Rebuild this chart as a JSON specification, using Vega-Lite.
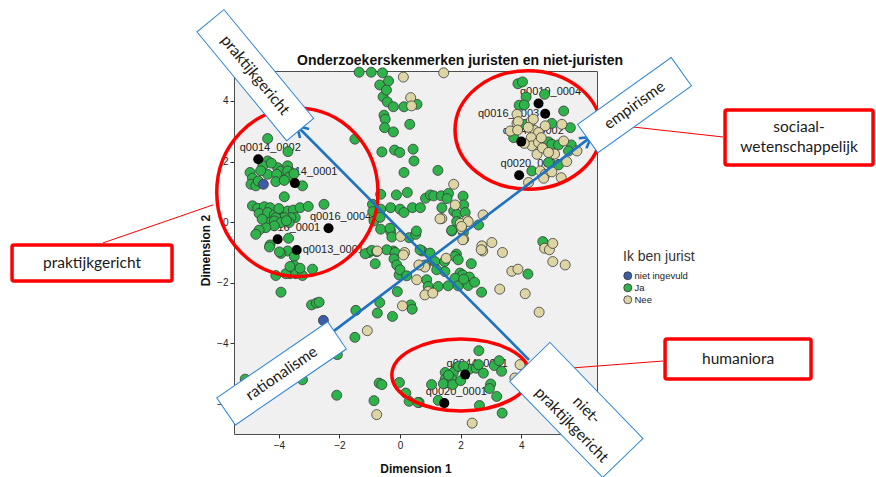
{
"$schema": "https://vega.github.io/schema/vega-lite/v6.json",
"width": 363, "height": 363,
"autosize": {"type": "none"},
"padding": {"left": 234, "top": 71, "right": 279, "bottom": 43},
"background": "white",
"config": {
 "view": {"fill": "#F0F0F0", "stroke": "#4d4d4d", "strokeWidth": 1},
 "font": "Liberation Sans",
 "axis": {"labelFont": "Liberation Sans", "labelFontSize": 10, "labelColor": "#222", "tickColor": "#333", "tickSize": 4, "domain": false, "grid": false, "titleFont": "Liberation Sans", "titleFontSize": 12, "titleFontWeight": "bold", "titleColor": "#111", "labelPadding": 2}
},
"datasets": {
 "pts": [
{"x":-1.35,"y":4.95,"g":"Ja"},{"x":-0.95,"y":4.95,"g":"Ja"},{"x":-0.58,"y":4.93,"g":"Ja"},{"x":-0.67,"y":4.53,"g":"Ja"},{"x":-0.38,"y":4.66,"g":"Ja"},{"x":-0.56,"y":4.14,"g":"Ja"},{"x":-0.45,"y":4.36,"g":"Ja"},{"x":-0.42,"y":3.97,"g":"Ja"},{"x":-0.22,"y":3.81,"g":"Ja"},{"x":-0.53,"y":3.53,"g":"Ja"},{"x":-0.49,"y":3.4,"g":"Ja"},{"x":-0.51,"y":3.12,"g":"Ja"},{"x":-0.22,"y":2.98,"g":"Ja"},{"x":0.32,"y":3.23,"g":"Ja"},{"x":0.13,"y":3.81,"g":"Ja"},{"x":0.56,"y":3.89,"g":"Ja"},
{"x":-1.49,"y":2.74,"g":"Ja"},{"x":-0.6,"y":2.32,"g":"Ja"},{"x":-0.18,"y":2.38,"g":"Ja"},{"x":-0.01,"y":2.3,"g":"Ja"},{"x":0.46,"y":2.02,"g":"Ja"},{"x":0.13,"y":1.64,"g":"Ja"},{"x":0.43,"y":2.41,"g":"Ja"},{"x":1.25,"y":1.71,"g":"Ja"},
{"x":-4.37,"y":2.76,"g":"Ja"},{"x":-4.37,"y":2.02,"g":"Ja"},{"x":-4.95,"y":1.64,"g":"Ja"},{"x":-4.87,"y":1.45,"g":"Ja"},{"x":-4.92,"y":1.25,"g":"Ja"},{"x":-4.76,"y":1.2,"g":"Ja"},{"x":-4.68,"y":1.36,"g":"Ja"},{"x":-4.37,"y":1.58,"g":"Ja"},{"x":-4.04,"y":1.8,"g":"Ja"},{"x":-3.93,"y":1.69,"g":"Ja"},{"x":-4.07,"y":1.58,"g":"Ja"},{"x":-3.71,"y":1.86,"g":"Ja"},{"x":-3.71,"y":1.69,"g":"Ja"},{"x":-3.66,"y":1.49,"g":"Ja"},{"x":-4.1,"y":1.34,"g":"Ja"},{"x":-3.82,"y":1.38,"g":"Ja"},{"x":-3.22,"y":1.2,"g":"Ja"},{"x":-3.82,"y":0.84,"g":"Ja"},{"x":-4.87,"y":0.54,"g":"Ja"},{"x":-4.7,"y":0.46,"g":"Ja"},{"x":-4.48,"y":0.51,"g":"Ja"},{"x":-4.29,"y":0.48,"g":"Ja"},{"x":-4.65,"y":0.29,"g":"Ja"},{"x":-4.37,"y":0.32,"g":"Ja"},{"x":-4.15,"y":0.24,"g":"Ja"},{"x":-3.93,"y":0.32,"g":"Ja"},{"x":-3.71,"y":0.37,"g":"Ja"},{"x":-3.52,"y":0.4,"g":"Ja"},{"x":-3.46,"y":0.15,"g":"Ja"},{"x":-3.6,"y":0.15,"g":"Ja"},{"x":-3.82,"y":0.15,"g":"Ja"},{"x":-4.1,"y":0.15,"g":"Ja"},{"x":-4.37,"y":-0.01,"g":"Ja"},{"x":-4.15,"y":0.04,"g":"Ja"},{"x":-3.93,"y":-0.01,"g":"Ja"},{"x":-3.66,"y":-0.01,"g":"Ja"},{"x":-3.3,"y":0.48,"g":"Ja"},{"x":-3.03,"y":0.52,"g":"Ja"},{"x":-2.51,"y":0.59,"g":"Ja"},{"x":-4.15,"y":-0.12,"g":"Ja"},{"x":-4.43,"y":-0.18,"g":"Ja"},{"x":-4.65,"y":-0.26,"g":"Ja"},{"x":-4.76,"y":-0.4,"g":"Ja"},{"x":-4.29,"y":-0.75,"g":"Ja"},{"x":-3.71,"y":-0.95,"g":"Ja"},{"x":-3.93,"y":-1.03,"g":"Ja"},{"x":-4.31,"y":-0.82,"g":"Ja"},{"x":-3.68,"y":-0.53,"g":"Ja"},{"x":-3.49,"y":-1.13,"g":"Ja"},{"x":-3.7,"y":2.33,"g":"Ja"},{"x":-4.53,"y":1.86,"g":"Ja"},{"x":-4.25,"y":1.95,"g":"Ja"},{"x":-4.6,"y":1.7,"g":"Ja"},{"x":-3.5,"y":1.6,"g":"Ja"},{"x":-4.0,"y":0.45,"g":"Ja"},{"x":-3.75,"y":0.05,"g":"Ja"},{"x":-4.55,"y":0.1,"g":"Ja"},
{"x":-0.64,"y":0.92,"g":"Ja"},{"x":-0.12,"y":0.9,"g":"Ja"},{"x":0.24,"y":0.98,"g":"Ja"},{"x":-0.91,"y":0.59,"g":"Ja"},{"x":-0.64,"y":0.43,"g":"Ja"},{"x":-0.31,"y":0.48,"g":"Ja"},{"x":0.0,"y":0.43,"g":"Ja"},{"x":0.13,"y":0.32,"g":"Ja"},{"x":0.41,"y":0.48,"g":"Ja"},{"x":-0.86,"y":0.04,"g":"Ja"},{"x":-0.64,"y":-0.23,"g":"Ja"},{"x":-0.31,"y":-0.31,"g":"Ja"},{"x":0.3,"y":-0.51,"g":"Ja"},{"x":0.52,"y":-0.4,"g":"Ja"},{"x":-1.02,"y":-1.0,"g":"Ja"},{"x":-0.22,"y":-0.95,"g":"Ja"},{"x":-0.9,"y":0.35,"g":"Ja"},{"x":-0.66,"y":0.16,"g":"Ja"},{"x":-0.33,"y":-0.2,"g":"Ja"},{"x":-0.27,"y":-0.49,"g":"Ja"},
{"x":0.84,"y":0.79,"g":"Ja"},{"x":1.0,"y":0.9,"g":"Ja"},{"x":1.11,"y":0.87,"g":"Ja"},{"x":1.36,"y":0.87,"g":"Ja"},{"x":1.6,"y":0.95,"g":"Ja"},{"x":1.55,"y":0.78,"g":"Ja"},{"x":2.08,"y":0.86,"g":"Ja"},{"x":2.1,"y":0.57,"g":"Ja"},{"x":1.77,"y":0.37,"g":"Ja"},{"x":1.38,"y":0.48,"g":"Ja"},{"x":0.67,"y":0.48,"g":"Ja"},{"x":1.88,"y":0.26,"g":"Ja"},{"x":2.15,"y":0.32,"g":"Ja"},{"x":1.71,"y":-0.29,"g":"Ja"},{"x":2.59,"y":-0.09,"g":"Ja"},{"x":0.54,"y":-0.29,"g":"Ja"},{"x":4.71,"y":-0.64,"g":"Ja"},{"x":1.86,"y":-1.05,"g":"Ja"},{"x":0.73,"y":-0.95,"g":"Ja"},{"x":1.87,"y":0.02,"g":"Ja"},{"x":1.7,"y":-0.27,"g":"Ja"},{"x":2.09,"y":-0.34,"g":"Ja"},
{"x":3.89,"y":4.57,"g":"Ja"},{"x":4.04,"y":4.63,"g":"Ja"},{"x":4.16,"y":4.13,"g":"Ja"},{"x":4.77,"y":4.22,"g":"Ja"},{"x":3.93,"y":3.86,"g":"Ja"},{"x":4.1,"y":3.87,"g":"Ja"},{"x":5.4,"y":3.67,"g":"Ja"},{"x":5.01,"y":3.26,"g":"Ja"},{"x":5.62,"y":3.12,"g":"Ja"},{"x":4.13,"y":3.23,"g":"Ja"},{"x":3.75,"y":2.79,"g":"Ja"},{"x":4.9,"y":2.65,"g":"Ja"},{"x":5.01,"y":2.57,"g":"Ja"},{"x":5.23,"y":2.55,"g":"Ja"},{"x":5.65,"y":2.55,"g":"Ja"},{"x":5.56,"y":2.35,"g":"Ja"},{"x":4.9,"y":1.97,"g":"Ja"},{"x":4.35,"y":1.69,"g":"Ja"},{"x":5.23,"y":1.89,"g":"Ja"},
{"x":-3.49,"y":-1.44,"g":"Ja"},{"x":-3.63,"y":-1.7,"g":"Ja"},{"x":-3.77,"y":-1.7,"g":"Ja"},{"x":-3.44,"y":-1.7,"g":"Ja"},{"x":-3.22,"y":-1.76,"g":"Ja"},{"x":-4.1,"y":-1.76,"g":"Ja"},{"x":-2.89,"y":-1.55,"g":"Ja"},{"x":-3.93,"y":-2.31,"g":"Ja"},{"x":-2.92,"y":-2.73,"g":"Ja"},{"x":-2.76,"y":-2.67,"g":"Ja"},{"x":-2.67,"y":-2.64,"g":"Ja"},{"x":-1.46,"y":-2.91,"g":"Ja"},{"x":-1.49,"y":-3.8,"g":"Ja"},{"x":-2.07,"y":-4.37,"g":"Ja"},{"x":-3.22,"y":-5.2,"g":"Ja"},{"x":-2.09,"y":-5.71,"g":"Ja"},{"x":-5.11,"y":-5.18,"g":"Ja"},{"x":-0.03,"y":-1.74,"g":"Ja"},{"x":-0.09,"y":-2.29,"g":"Ja"},{"x":-0.67,"y":-2.65,"g":"Ja"},{"x":-0.75,"y":-3.0,"g":"Ja"},{"x":-0.25,"y":-3.11,"g":"Ja"},{"x":0.35,"y":-2.73,"g":"Ja"},{"x":-0.69,"y":-5.31,"g":"Ja"},{"x":-0.6,"y":-5.36,"g":"Ja"},{"x":-0.86,"y":-5.89,"g":"Ja"},{"x":-0.02,"y":-5.29,"g":"Ja"},{"x":0.19,"y":-5.64,"g":"Ja"},{"x":0.3,"y":-5.91,"g":"Ja"},{"x":0.63,"y":-5.95,"g":"Ja"},{"x":-3.98,"y":-0.98,"g":"Ja"},{"x":-3.63,"y":-1.46,"g":"Ja"},{"x":-3.3,"y":-1.52,"g":"Ja"},
{"x":-1.15,"y":-1.04,"g":"Ja"},{"x":-0.93,"y":-0.93,"g":"Ja"},{"x":-0.77,"y":-0.97,"g":"Ja"},{"x":-0.44,"y":-0.91,"g":"Ja"},{"x":-0.16,"y":-1.0,"g":"Ja"},{"x":-0.2,"y":-1.21,"g":"Ja"},{"x":-0.11,"y":-1.41,"g":"Ja"},{"x":0.0,"y":-1.57,"g":"Ja"},{"x":0.22,"y":-1.77,"g":"Ja"},{"x":0.66,"y":-0.91,"g":"Ja"},{"x":0.99,"y":-1.02,"g":"Ja"},{"x":1.15,"y":-1.3,"g":"Ja"},{"x":1.81,"y":-1.13,"g":"Ja"},{"x":1.92,"y":-1.24,"g":"Ja"},{"x":1.98,"y":-1.68,"g":"Ja"},{"x":2.07,"y":-1.74,"g":"Ja"},{"x":2.29,"y":-1.81,"g":"Ja"},{"x":1.81,"y":-1.85,"g":"Ja"},{"x":1.48,"y":-1.63,"g":"Ja"},{"x":1.21,"y":-1.57,"g":"Ja"},{"x":0.88,"y":-1.9,"g":"Ja"},{"x":0.93,"y":-2.12,"g":"Ja"},{"x":1.26,"y":-2.12,"g":"Ja"},{"x":1.59,"y":-2.1,"g":"Ja"},{"x":1.92,"y":-2.1,"g":"Ja"},{"x":2.25,"y":-2.09,"g":"Ja"},{"x":2.69,"y":-2.31,"g":"Ja"},{"x":-0.82,"y":-1.37,"g":"Ja"},{"x":0.84,"y":-1.41,"g":"Ja"},{"x":1.47,"y":-1.3,"g":"Ja"},{"x":2.35,"y":-1.37,"g":"Ja"},{"x":4.22,"y":-1.71,"g":"Ja"},{"x":2.1,"y":-1.88,"g":"Ja"},{"x":2.46,"y":-1.98,"g":"Ja"},{"x":0.4,"y":-2.87,"g":"Ja"},
{"x":2.6,"y":-4.24,"g":"Ja"},{"x":1.87,"y":-4.79,"g":"Ja"},{"x":2.29,"y":-4.85,"g":"Ja"},{"x":2.51,"y":-4.82,"g":"Ja"},{"x":2.75,"y":-4.98,"g":"Ja"},{"x":3.11,"y":-4.73,"g":"Ja"},{"x":3.27,"y":-4.57,"g":"Ja"},{"x":3.35,"y":-4.92,"g":"Ja"},{"x":1.49,"y":-4.96,"g":"Ja"},{"x":1.76,"y":-4.96,"g":"Ja"},{"x":1.49,"y":-5.18,"g":"Ja"},{"x":1.71,"y":-5.18,"g":"Ja"},{"x":1.43,"y":-5.33,"g":"Ja"},{"x":1.74,"y":-5.36,"g":"Ja"},{"x":2.0,"y":-5.23,"g":"Ja"},{"x":1.04,"y":-5.36,"g":"Ja"},{"x":2.99,"y":-5.34,"g":"Ja"},{"x":2.95,"y":-5.49,"g":"Ja"},{"x":3.19,"y":-5.75,"g":"Ja"},{"x":1.26,"y":-5.88,"g":"Ja"},{"x":2.62,"y":-6.05,"g":"Ja"},{"x":3.37,"y":-6.3,"g":"Ja"},{"x":1.93,"y":-4.76,"g":"Ja"},{"x":2.59,"y":-4.7,"g":"Ja"},{"x":0.59,"y":-5.95,"g":"Ja"},{"x":1.6,"y":-5.05,"g":"Ja"},{"x":2.1,"y":-4.75,"g":"Ja"},
{"x":0.11,"y":4.79,"g":"Nee"},{"x":0.35,"y":4.11,"g":"Nee"},{"x":0.38,"y":3.84,"g":"Nee"},{"x":1.44,"y":4.93,"g":"Nee"},
{"x":1.77,"y":1.25,"g":"Nee"},{"x":1.82,"y":0.57,"g":"Nee"},{"x":1.38,"y":0.12,"g":"Nee"},{"x":2.21,"y":0.07,"g":"Nee"},{"x":1.99,"y":-0.04,"g":"Nee"},{"x":2.04,"y":-0.23,"g":"Nee"},{"x":2.1,"y":-0.56,"g":"Nee"},{"x":2.74,"y":0.24,"g":"Nee"},{"x":2.7,"y":-0.78,"g":"Nee"},{"x":3.03,"y":-0.67,"g":"Nee"},{"x":2.73,"y":-0.95,"g":"Nee"},{"x":3.38,"y":-1.0,"g":"Nee"},{"x":4.77,"y":-0.86,"g":"Nee"},{"x":4.93,"y":-0.91,"g":"Nee"},{"x":5.04,"y":-0.7,"g":"Nee"},{"x":2.25,"y":0.02,"g":"Nee"},{"x":1.32,"y":0.11,"g":"Nee"},{"x":2.03,"y":-0.14,"g":"Nee"},{"x":2.07,"y":-0.58,"g":"Nee"},
{"x":0.02,"y":-0.47,"g":"Nee"},{"x":-0.75,"y":-0.95,"g":"Nee"},{"x":0.15,"y":-1.0,"g":"Nee"},
{"x":3.86,"y":3.56,"g":"Nee"},{"x":3.86,"y":3.26,"g":"Nee"},{"x":5.34,"y":3.23,"g":"Nee"},{"x":4.79,"y":3.18,"g":"Nee"},{"x":4.33,"y":3.34,"g":"Nee"},{"x":4.44,"y":3.03,"g":"Nee"},{"x":4.57,"y":2.96,"g":"Nee"},{"x":3.64,"y":3.01,"g":"Nee"},{"x":4.33,"y":2.79,"g":"Nee"},{"x":4.35,"y":2.52,"g":"Nee"},{"x":4.57,"y":2.63,"g":"Nee"},{"x":4.66,"y":2.79,"g":"Nee"},{"x":5.4,"y":2.68,"g":"Nee"},{"x":5.84,"y":2.35,"g":"Nee"},{"x":4.52,"y":2.24,"g":"Nee"},{"x":4.63,"y":1.69,"g":"Nee"},{"x":4.79,"y":1.58,"g":"Nee"},{"x":4.74,"y":1.45,"g":"Nee"},{"x":5.01,"y":1.66,"g":"Nee"},{"x":5.32,"y":1.47,"g":"Nee"},{"x":4.24,"y":1.31,"g":"Nee"},{"x":4.4,"y":3.4,"g":"Nee"},{"x":4.23,"y":3.13,"g":"Nee"},{"x":4.1,"y":2.6,"g":"Nee"},{"x":4.7,"y":2.45,"g":"Nee"},{"x":5.1,"y":2.25,"g":"Nee"},{"x":4.9,"y":2.3,"g":"Nee"},{"x":5.5,"y":2.0,"g":"Nee"},{"x":3.9,"y":3.32,"g":"Nee"},{"x":3.88,"y":3.04,"g":"Nee"},
{"x":-1.08,"y":-3.58,"g":"Nee"},{"x":0.08,"y":-2.76,"g":"Nee"},{"x":0.55,"y":-1.9,"g":"Nee"},{"x":-0.77,"y":-6.35,"g":"Nee"},
{"x":0.11,"y":-1.08,"g":"Nee"},{"x":0.77,"y":-1.44,"g":"Nee"},{"x":0.82,"y":-1.48,"g":"Nee"},{"x":1.52,"y":-1.19,"g":"Nee"},{"x":0.93,"y":-2.29,"g":"Nee"},{"x":0.82,"y":-2.4,"g":"Nee"},{"x":0.62,"y":-1.41,"g":"Nee"},{"x":2.68,"y":-0.91,"g":"Nee"},{"x":3.69,"y":-1.62,"g":"Nee"},{"x":3.89,"y":-1.55,"g":"Nee"},{"x":5.04,"y":-1.3,"g":"Nee"},{"x":5.45,"y":-1.41,"g":"Nee"},{"x":1.08,"y":-2.34,"g":"Nee"},{"x":3.29,"y":-2.21,"g":"Nee"},{"x":4.13,"y":-2.36,"g":"Nee"},{"x":4.59,"y":-2.97,"g":"Nee"},
{"x":2.38,"y":-6.63,"g":"Nee"},{"x":3.96,"y":-4.7,"g":"Nee"},{"x":3.79,"y":-5.14,"g":"Nee"},
{"x":-4.51,"y":1.25,"g":"niet ingevuld"},{"x":-2.53,"y":-3.24,"g":"niet ingevuld"}
 ],
 "vars": [
{"x":-4.68,"y":2.08,"lab":"q0014_0002"},{"x":-3.47,"y":1.29,"lab":"q0014_0001"},{"x":-4.04,"y":-0.56,"lab":"q0016_0001"},{"x":-2.36,"y":-0.2,"lab":"q0016_0004"},{"x":-3.41,"y":-0.92,"lab":"q0013_0001"},{"x":4.57,"y":3.92,"lab":"q0019_0004"},{"x":4.79,"y":3.58,"lab":"q0016_0003"},{"x":4.0,"y":2.66,"lab":"q0044_0002"},{"x":3.93,"y":1.55,"lab":"q0020_0002"},{"x":2.15,"y":-5.03,"lab":"q0044_0001"},{"x":1.46,"y":-5.97,"lab":"q0020_0001"}
 ],
 "arrows": [
{"x":4.257,"y":-4.545,"a":"praktijk"},{"x":-3.399,"y":3.175,"a":"praktijk"},
{"x":-2.178,"y":-3.587,"a":"empirie"},{"x":6.304,"y":2.815,"a":"empirie"}
 ],
 "connectors": [
{"x":-9.802,"y":-0.683,"c":"links"},{"x":-6.172,"y":0.571,"c":"links"},
{"x":10.66,"y":2.812,"c":"sociaal"},{"x":7.657,"y":3.145,"c":"sociaal"},
{"x":8.68,"y":-4.581,"c":"humaniora"},{"x":5.281,"y":-4.841,"c":"humaniora"}
 ],
 "redboxes": [
{"x":-12.805,"x2":-7.525,"y":-0.749,"y2":-1.937,"tx":-10.165,"ty":-1.343,"t":"praktijkgericht"},
{"x":8.746,"x2":13.564,"y":-3.851,"y2":-5.172,"tx":11.155,"ty":-4.512,"t":"humaniora"}
 ],
 "redbox2": [
{"x":10.726,"x2":15.611,"y":3.706,"y2":1.891,"tx":13.168,"ty":2.799,"t":"sociaal-\nwetenschappelijk"}
 ]
},
"layer": [
 {"data": {"name": "vars"}, "transform": [{"filter": "datum.lab != 'q0016_0003' && datum.lab != 'q0013_0001'"}],
  "mark": {"type": "text", "dx": 12, "dy": -11, "fontSize": 11, "color": "#222", "font": "Liberation Sans"},
  "encoding": {
   "x": {"field": "x", "type": "quantitative", "scale": {"domain": [-5.48, 6.5], "nice": false, "zero": false}, "axis": {"values": [-4, -2, 0, 2, 4], "title": "Dimension 1", "titleBaseline": "middle", "titleY": 34}},
   "y": {"field": "y", "type": "quantitative", "scale": {"domain": [-6.99, 4.99], "nice": false, "zero": false}, "axis": {"values": [-6, -4, -2, 0, 2, 4], "title": "Dimension 2", "titleBaseline": "middle", "titleX": -29, "titleY": 179}},
   "text": {"field": "lab"}}},
 {"data": {"name": "vars"}, "transform": [{"filter": "datum.lab == 'q0016_0003'"}],
  "mark": {"type": "text", "align": "right", "dx": -6, "fontSize": 11, "color": "#222", "font": "Liberation Sans"},
  "encoding": {"x": {"field": "x", "type": "quantitative"}, "y": {"field": "y", "type": "quantitative"}, "text": {"field": "lab"}}},
 {"data": {"name": "vars"}, "transform": [{"filter": "datum.lab == 'q0013_0001'"}],
  "mark": {"type": "text", "align": "left", "dx": 6, "fontSize": 11, "color": "#222", "font": "Liberation Sans"},
  "encoding": {"x": {"field": "x", "type": "quantitative"}, "y": {"field": "y", "type": "quantitative"}, "text": {"field": "lab"}}},
 {"data": {"name": "pts"},
  "mark": {"type": "point", "filled": true, "size": 100, "opacity": 1, "stroke": "#3a3a3a", "strokeWidth": 0.8},
  "encoding": {
   "x": {"field": "x", "type": "quantitative"}, "y": {"field": "y", "type": "quantitative"},
   "color": {"field": "g", "type": "nominal", "scale": {"domain": ["niet ingevuld", "Ja", "Nee"], "range": ["#3D5DA8", "#2DB34A", "#DDD5A3"]},
     "legend": {"title": "Ik ben jurist", "orient": "none", "legendX": 389, "legendY": 179, "titleFont": "Liberation Sans", "titleFontSize": 14, "titleFontWeight": "normal", "titleColor": "#333", "labelFont": "Liberation Sans", "labelFontSize": 9.5, "labelColor": "#222", "symbolSize": 64, "symbolType": "circle", "symbolStrokeColor": "#333", "symbolStrokeWidth": 0.8, "rowPadding": 0, "titlePadding": 7, "labelOffset": 2, "padding": 0}}}},
 {"data": {"name": "vars"},
  "mark": {"type": "point", "filled": true, "size": 100, "opacity": 1, "color": "#000"},
  "encoding": {"x": {"field": "x", "type": "quantitative"}, "y": {"field": "y", "type": "quantitative"}}},
 {"data": {"values": [{"x": 1.98, "y": 5.32, "t": "Onderzoekerskenmerken juristen en niet-juristen"}]},
  "mark": {"type": "text", "font": "Liberation Sans", "fontSize": 14, "fontWeight": "bold", "color": "#111", "align": "center", "baseline": "middle"},
  "encoding": {"x": {"field": "x", "type": "quantitative"}, "y": {"field": "y", "type": "quantitative"}, "text": {"field": "t"}}},
 {"data": {"values": [{"x": -3.389, "y": 0.99}]},
  "mark": {"type": "point", "filled": false, "opacity": 1, "color": "#FF0000", "strokeWidth": 3.5, "shape": "M-0.956,0A0.956,1,0,1,1,0.956,0A0.956,1,0,1,1,-0.956,0Z", "size": 28426},
  "encoding": {"x": {"field": "x", "type": "quantitative"}, "y": {"field": "y", "type": "quantitative"}}},
 {"data": {"values": [{"x": 4.224, "y": 3.046}]},
  "mark": {"type": "point", "filled": false, "opacity": 1, "color": "#FF0000", "strokeWidth": 3.5, "shape": "M-1,0A1,0.812,0,1,1,1,0A1,0.812,0,1,1,-1,0Z", "size": 21316},
  "encoding": {"x": {"field": "x", "type": "quantitative"}, "y": {"field": "y", "type": "quantitative"}}},
 {"data": {"values": [{"x": 2.007, "y": -5.04}]},
  "mark": {"type": "point", "filled": false, "opacity": 1, "color": "#FF0000", "strokeWidth": 3.5, "shape": "M-1,0A1,0.522,0,1,1,1,0A1,0.522,0,1,1,-1,0Z", "size": 19044},
  "encoding": {"x": {"field": "x", "type": "quantitative"}, "y": {"field": "y", "type": "quantitative"}}},
 {"data": {"name": "arrows"},
  "mark": {"type": "line", "color": "#1F72C0", "strokeWidth": 2.6},
  "encoding": {"x": {"field": "x", "type": "quantitative"}, "y": {"field": "y", "type": "quantitative"}, "detail": {"field": "a"}}},
 {"data": {"values": [{"x": -3.399, "y": 3.175}]},
  "mark": {"type": "point", "filled": false, "opacity": 1, "color": "#1F72C0", "strokeWidth": 2.6, "shape": "M-0.6,1L0,0L0.6,1", "size": 450, "angle": 315},
  "encoding": {"x": {"field": "x", "type": "quantitative"}, "y": {"field": "y", "type": "quantitative"}}},
 {"data": {"values": [{"x": 6.304, "y": 2.815}]},
  "mark": {"type": "point", "filled": false, "opacity": 1, "color": "#1F72C0", "strokeWidth": 2.6, "shape": "M-0.6,1L0,0L0.6,1", "size": 450, "angle": 53},
  "encoding": {"x": {"field": "x", "type": "quantitative"}, "y": {"field": "y", "type": "quantitative"}}},
 {"data": {"name": "connectors"},
  "mark": {"type": "line", "color": "#FF0000", "strokeWidth": 1},
  "encoding": {"x": {"field": "x", "type": "quantitative"}, "y": {"field": "y", "type": "quantitative"}, "detail": {"field": "c"}}},
 {"data": {"name": "redboxes"},
  "mark": {"type": "rect", "fill": "#ffffff", "stroke": "#FF0000", "strokeWidth": 3.5, "cornerRadius": 2},
  "encoding": {"x": {"field": "x", "type": "quantitative"}, "x2": {"field": "x2"}, "y": {"field": "y", "type": "quantitative"}, "y2": {"field": "y2"}}},
 {"data": {"name": "redboxes"},
  "mark": {"type": "text", "font": "Lato", "fontSize": 15.5, "color": "#1a1a1a", "align": "center", "baseline": "middle"},
  "encoding": {"x": {"field": "tx", "type": "quantitative"}, "y": {"field": "ty", "type": "quantitative"}, "text": {"field": "t"}}},
 {"data": {"name": "redbox2"},
  "mark": {"type": "rect", "fill": "#ffffff", "stroke": "#FF0000", "strokeWidth": 3.5, "cornerRadius": 2},
  "encoding": {"x": {"field": "x", "type": "quantitative"}, "x2": {"field": "x2"}, "y": {"field": "y", "type": "quantitative"}, "y2": {"field": "y2"}}},
 {"data": {"name": "redbox2"},
  "mark": {"type": "text", "font": "Lato", "fontSize": 15.5, "color": "#1a1a1a", "lineBreak": "\n", "lineHeight": 20, "align": "center", "baseline": "middle", "dy": -10},
  "encoding": {"x": {"field": "tx", "type": "quantitative"}, "y": {"field": "ty", "type": "quantitative"}, "text": {"field": "t"}}},
 {"data": {"values": [{"x": -4.777, "y": 4.853, "t": "praktijkgericht"}]},
  "layer": [
   {"mark": {"type": "point", "filled": true, "opacity": 1, "fill": "#ffffff", "stroke": "#2E86D6", "strokeWidth": 1, "shape": "M-1,-0.248L1,-0.248L1,0.248L-1,0.248Z", "size": 19881, "angle": 50.5},
    "encoding": {"x": {"field": "x", "type": "quantitative"}, "y": {"field": "y", "type": "quantitative"}}},
   {"mark": {"type": "text", "font": "Lato", "fontSize": 15.5, "color": "#1a1a1a", "angle": 50.5, "align": "center", "baseline": "middle"},
    "encoding": {"x": {"field": "x", "type": "quantitative"}, "y": {"field": "y", "type": "quantitative"}, "text": {"field": "t"}}}
  ]},
 {"data": {"values": [{"x": 7.739, "y": 3.863, "t": "empirisme"}]},
  "layer": [
   {"mark": {"type": "point", "filled": true, "opacity": 1, "fill": "#ffffff", "stroke": "#2E86D6", "strokeWidth": 1, "shape": "M-1,-0.304L1,-0.304L1,0.304L-1,0.304Z", "size": 13225, "angle": -35.5},
    "encoding": {"x": {"field": "x", "type": "quantitative"}, "y": {"field": "y", "type": "quantitative"}}},
   {"mark": {"type": "text", "font": "Lato", "fontSize": 15.5, "color": "#1a1a1a", "angle": -35.5, "align": "center", "baseline": "middle"},
    "encoding": {"x": {"field": "x", "type": "quantitative"}, "y": {"field": "y", "type": "quantitative"}, "text": {"field": "t"}}}
  ]},
 {"data": {"values": [{"x": -3.911, "y": -4.99, "t": "rationalisme"}]},
  "layer": [
   {"mark": {"type": "point", "filled": true, "opacity": 1, "fill": "#ffffff", "stroke": "#2E86D6", "strokeWidth": 1, "shape": "M-1,-0.245L1,-0.245L1,0.245L-1,0.245Z", "size": 18090, "angle": -34.4},
    "encoding": {"x": {"field": "x", "type": "quantitative"}, "y": {"field": "y", "type": "quantitative"}}},
   {"mark": {"type": "text", "font": "Lato", "fontSize": 15.5, "color": "#1a1a1a", "angle": -34.4, "align": "center", "baseline": "middle"},
    "encoding": {"x": {"field": "x", "type": "quantitative"}, "y": {"field": "y", "type": "quantitative"}, "text": {"field": "t"}}}
  ]},
 {"data": {"values": [{"x": 5.817, "y": -6.195, "t": "niet-\npraktijkgericht"}]},
  "layer": [
   {"mark": {"type": "point", "filled": true, "opacity": 1, "fill": "#ffffff", "stroke": "#2E86D6", "strokeWidth": 1, "shape": "M-1,-0.419L1,-0.419L1,0.419L-1,0.419Z", "size": 17876, "angle": 45.9},
    "encoding": {"x": {"field": "x", "type": "quantitative"}, "y": {"field": "y", "type": "quantitative"}}},
   {"mark": {"type": "text", "font": "Lato", "fontSize": 15.5, "color": "#1a1a1a", "angle": 45.9, "align": "center", "baseline": "middle", "lineBreak": "\n", "lineHeight": 21, "dx": 7.5, "dy": -7.3},
    "encoding": {"x": {"field": "x", "type": "quantitative"}, "y": {"field": "y", "type": "quantitative"}, "text": {"field": "t"}}}
  ]}
]
}
